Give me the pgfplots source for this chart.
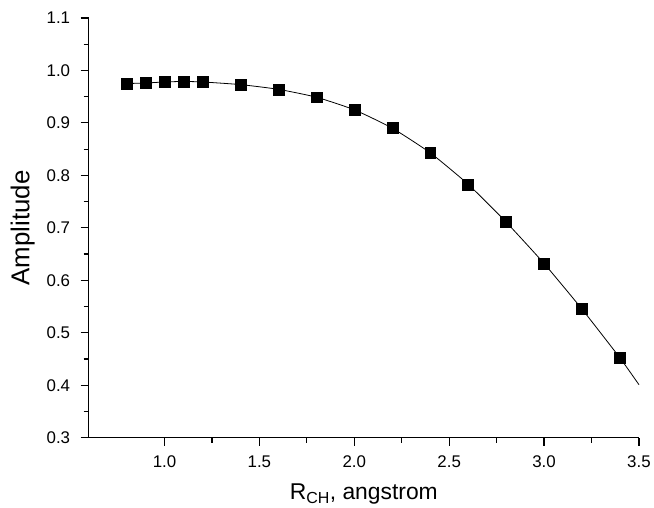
\documentclass[border=0pt]{standalone}
\usepackage{fontspec}
\setmainfont{Liberation Sans}
\usepackage{pgfplots}
\pgfplotsset{compat=1.18}

\begin{document}
\begin{tikzpicture}
\begin{axis}[
    scale only axis,
    width=552bp, height=421bp,
    xmin=0.6, xmax=3.5,
    ymin=0.3, ymax=1.1,
    axis x line*=bottom,
    axis y line*=left,
    axis line style={line width=1.3bp},
    xtick={1.0,1.5,...,3.5},
    ytick={0.3,0.4,...,1.1},
    minor tick num=1,
    tick align=outside,
    major tick length=8bp,
    minor tick length=5bp,
    tick style={line width=1.2bp, black},
    /pgf/number format/assume math mode=true,
    /pgf/number format/.cd, fixed, fixed zerofill, precision=1,
    /pgfplots/.cd,
    tick label style={font=\fontsize{17}{19}\selectfont},
    xticklabel style={yshift=-7bp},
    yticklabel style={xshift=-7bp},
    xlabel={R\textsubscript{CH}, angstrom},
    ylabel={Amplitude},
    xlabel style={font=\fontsize{23}{26}\selectfont, yshift=-9bp},
    ylabel style={font=\fontsize{26}{28}\selectfont, yshift=5bp},
    clip=false,
]
% smooth fitted curve through the points, continued to 3.5
\addplot[black, line width=0.8bp, smooth, tension=0.3] coordinates {
    (0.8,0.975) (0.9,0.976) (1.0,0.978) (1.1,0.979) (1.2,0.978)
    (1.4,0.973) (1.6,0.964) (1.8,0.949) (2.0,0.925) (2.2,0.890)
    (2.4,0.843) (2.6,0.783) (2.8,0.711) (3.0,0.632) (3.2,0.545)
    (3.4,0.452) (3.5,0.401)
};
% data points
\addplot[only marks, mark=square*, mark size=5.5bp, black] coordinates {
    (0.8,0.975) (0.9,0.976) (1.0,0.978) (1.1,0.979) (1.2,0.978)
    (1.4,0.973) (1.6,0.964) (1.8,0.949) (2.0,0.925) (2.2,0.890)
    (2.4,0.843) (2.6,0.783) (2.8,0.711) (3.0,0.632) (3.2,0.545)
    (3.4,0.452)
};
% page size to match the reference
\path (rel axis cs:-0.161,-0.159) rectangle (rel axis cs:1.0236,1.0428);
\end{axis}
\end{tikzpicture}
\end{document}
